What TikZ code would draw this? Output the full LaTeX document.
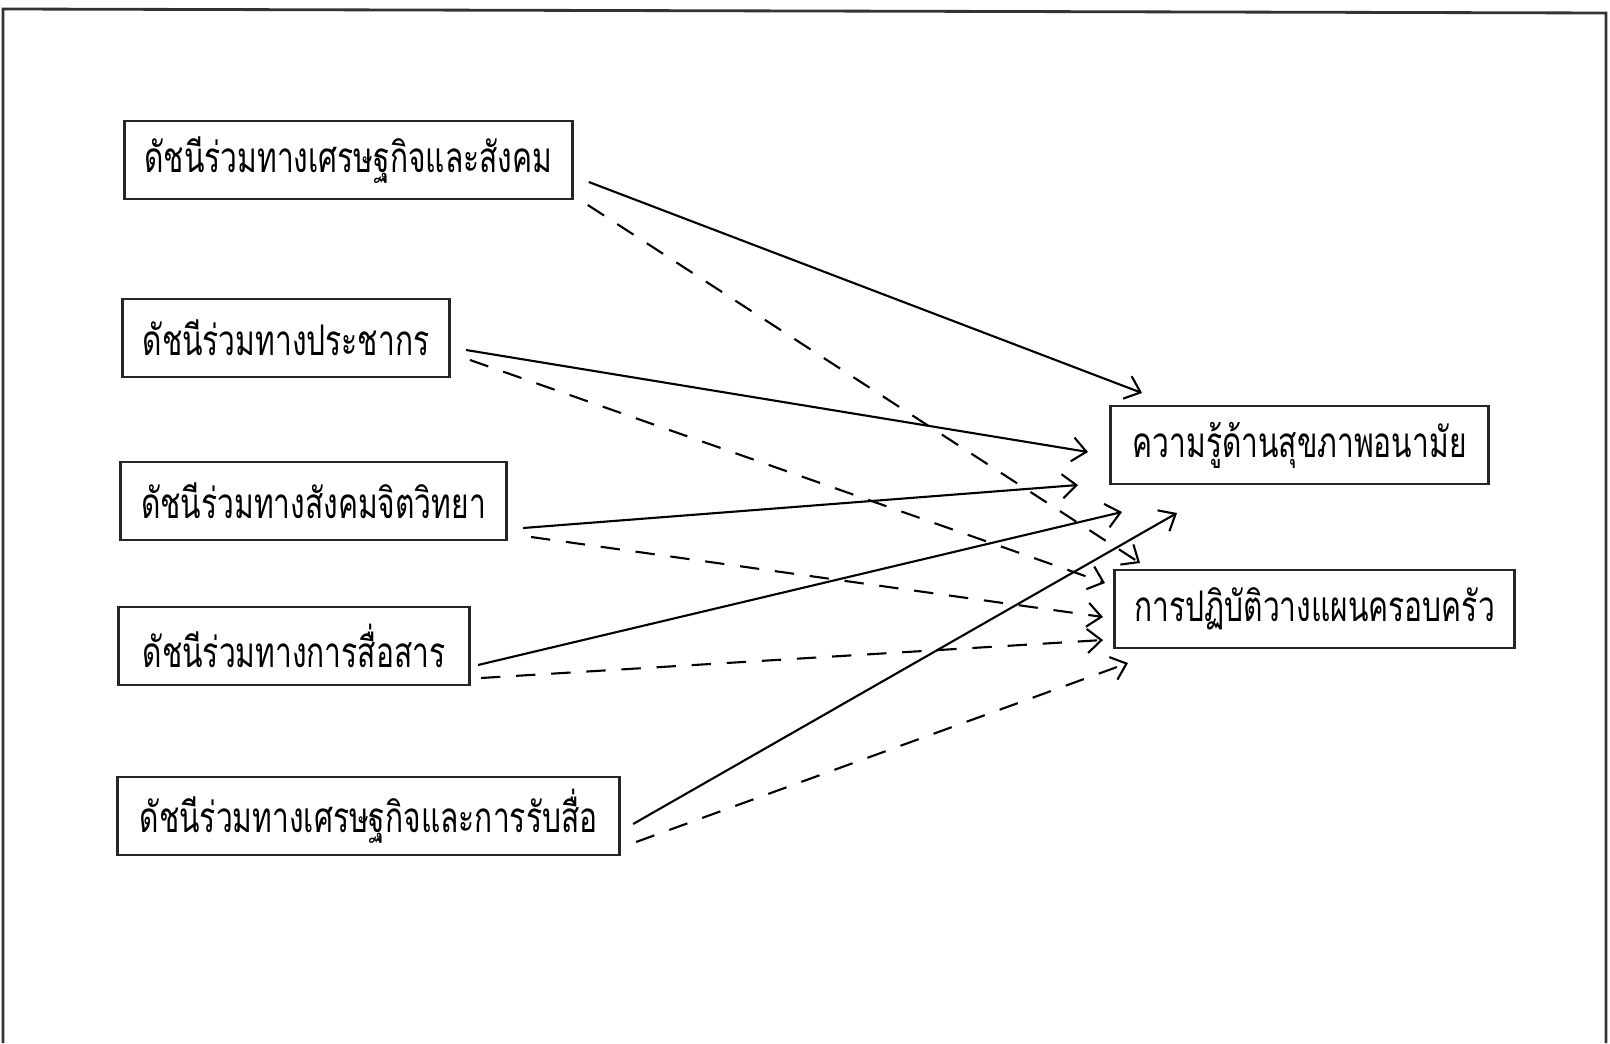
\documentclass[tikz,border=0pt]{standalone}
\usepackage{fontspec}
\newfontfamily\thaifont[Script=Thai, FakeStretch=0.71]{Loma}
\usetikzlibrary{arrows.meta}

\begin{document}
\begin{tikzpicture}[x=0.01cm, y=-0.01cm,
	>={Straight Barb[length=1.4mm,width=2.4mm]},
	index/.style={draw=black!85, thick, rectangle, anchor=west, minimum height=0.78cm, inner xsep=0.2cm, font=\thaifont\fontsize{12}{14}\selectfont},
	link/.style={semithick, ->},
	dlink/.style={semithick, ->, dash pattern=on 5.5pt off 4.5pt}]
	\useasboundingbox (0,0) rectangle (1610,1043);
	\draw[thick, black!80] (3,1043) -- (3,9) -- (1606,13) -- (1606,1043);

	\node[index, minimum width=4.35cm] (econ) at (123,160) {ดัชนีร่วมทางเศรษฐกิจและสังคม};
	\node[index, minimum width=3.27cm] (demo) at (121,338) {ดัชนีร่วมทางประชากร};
	\node[index, minimum width=3.86cm] (psych) at (119,501) {ดัชนีร่วมทางสังคมจิตวิทยา};
	\node[index, minimum width=3.51cm] (comm) at (117,646) {ดัชนีร่วมทางการสื่อสาร};
	\node[index, minimum width=5.02cm] (media) at (116,816) {ดัชนีร่วมทางเศรษฐกิจและการรับสื่อ};
	\node[index, minimum width=3.78cm] (know) at (1109,445) {ความรู้ด้านสุขภาพอนามัย};
	\node[index, minimum width=3.84cm] (plan) at (1113,609) {การปฏิบัติวางแผนครอบครัว};

	\draw[link] ([shift={(15,22)}]econ.east) -- ([shift={(33,-52)}]know.west);
	\draw[link] ([shift={(15,12)}]demo.east) -- ([shift={(-21,7)}]know.west);
	\draw[link] ([shift={(15,27)}]psych.east) -- ([shift={(-31,40)}]know.west);
	\draw[link] ([shift={(7,19)}]comm.east) -- ([shift={(13,67)}]know.west);
	\draw[link] ([shift={(12,8)}]media.east) -- ([shift={(68,68)}]know.west);

	\draw[dlink] ([shift={(14,45)}]econ.east) -- ([shift={(27,-46)}]plan.west);
	\draw[dlink] ([shift={(19,22)}]demo.east) -- ([shift={(-8,-26)}]plan.west);
	\draw[dlink] ([shift={(23,36)}]psych.east) -- ([shift={(-10,8)}]plan.west);
	\draw[dlink] ([shift={(10,32)}]comm.east) -- ([shift={(-10,31)}]plan.west);
	\draw[dlink] ([shift={(15,26)}]media.east) -- ([shift={(15,54)}]plan.west);
\end{tikzpicture}
\end{document}
